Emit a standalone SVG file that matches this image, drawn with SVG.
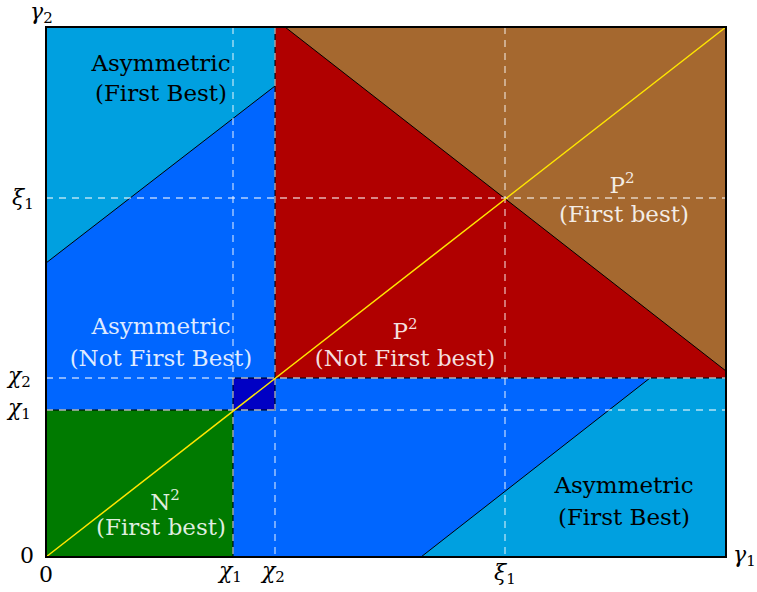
<svg xmlns="http://www.w3.org/2000/svg" width="757" height="592" viewBox="0 0 757 592">
<style>
text{font-family:"DejaVu Serif","Liberation Serif",serif}
.lbl{font-size:23px;text-anchor:middle}
.w{fill:#ffffff;fill-opacity:0.88}
.k{fill:#000000}
.m{font-size:22px;fill:#000}
.mi{font-style:italic}
.sub{font-size:15px;font-style:normal}
.sup{font-size:15px}
.bnd{stroke:#000;stroke-width:1;fill:none}
.dash{stroke:#ffffff;stroke-opacity:0.7;stroke-width:1.3;stroke-dasharray:7 6;fill:none}
</style>
<rect width="757" height="592" fill="#ffffff"/>
<g id="regions">
<rect id="asym-first-best" x="46" y="27" width="680" height="530" fill="#00A0E0"/>
<polygon id="asym-not-first-best" points="46,263 275,86 275,378 650,378 421,557 46,557" fill="#0066FF"/>
<rect id="n2-first-best" x="46" y="410" width="187" height="147" fill="#007A00"/>
<rect id="mixed" x="233" y="378" width="42" height="32" fill="#0000C4"/>
<rect id="p2-not-first-best" x="275" y="27" width="451" height="351" fill="#B00000"/>
<polygon id="p2-first-best" points="285,27 726,27 726,371" fill="#A5682F"/>
</g>
<g id="connectors">
<line class="bnd" x1="46" y1="263" x2="275" y2="86"/>
<line class="bnd" x1="421" y1="557" x2="650" y2="378"/>
<line class="bnd" x1="285" y1="27" x2="726" y2="371"/>
<polyline class="bnd" points="275,27 275,378 726,378"/>
<polyline class="bnd" points="46,410 233,410 233,557"/>
<rect class="bnd" x="233" y="378" width="42" height="32"/>
<line class="dash" x1="233" y1="27" x2="233" y2="557"/>
<line class="dash" x1="275" y1="27" x2="275" y2="557"/>
<line class="dash" x1="505" y1="27" x2="505" y2="557"/>
<line class="dash" x1="46" y1="410" x2="726" y2="410"/>
<line class="dash" x1="46" y1="378" x2="726" y2="378"/>
<line class="dash" x1="46" y1="198" x2="726" y2="198"/>
<line x1="46" y1="557" x2="726" y2="27" stroke="#FFE600" stroke-width="1.5"/>
<rect x="46" y="27" width="680" height="530" fill="none" stroke="#000" stroke-width="2"/>
</g>
<g id="label-asym-top">
<text class="lbl k" x="161" y="71">Asymmetric</text>
<text class="lbl k" x="161" y="101">(First Best)</text>
</g>
<g id="label-asym-mid">
<text class="lbl w" x="161" y="334">Asymmetric</text>
<text class="lbl w" x="161" y="366">(Not First Best)</text>
</g>
<g id="label-p2-red">
<text class="lbl w" x="405" y="339">P<tspan class="sup" dy="-10">2</tspan></text>
<text class="lbl w" x="405" y="366">(Not First best)</text>
</g>
<g id="label-p2-brown">
<text class="lbl w" x="622" y="193">P<tspan class="sup" dy="-10">2</tspan></text>
<text class="lbl w" x="624" y="222">(First best)</text>
</g>
<g id="label-n2">
<text class="lbl w" x="165" y="510">N<tspan class="sup" dy="-10">2</tspan></text>
<text class="lbl w" x="161" y="535">(First best)</text>
</g>
<g id="label-asym-bottom">
<text class="lbl k" x="624" y="493">Asymmetric</text>
<text class="lbl k" x="624" y="525">(First Best)</text>
</g>
<g id="axes-labels">
<text class="m mi" x="30" y="19">γ<tspan class="sub" dy="4">2</tspan></text>
<text class="m mi" x="733" y="562">γ<tspan class="sub" dy="4">1</tspan></text>
<text class="m" x="20" y="563">0</text>
<text class="m" x="39" y="582">0</text>
<text class="m mi" x="219" y="578">χ<tspan class="sub" dy="4">1</tspan></text>
<text class="m mi" x="262" y="578">χ<tspan class="sub" dy="4">2</tspan></text>
<text class="m mi" x="494" y="580">ξ<tspan class="sub" dy="4">1</tspan></text>
<text class="m mi" x="12" y="205">ξ<tspan class="sub" dy="4">1</tspan></text>
<text class="m mi" x="8" y="383">χ<tspan class="sub" dy="4">2</tspan></text>
<text class="m mi" x="8" y="415">χ<tspan class="sub" dy="4">1</tspan></text>
</g>
</svg>
